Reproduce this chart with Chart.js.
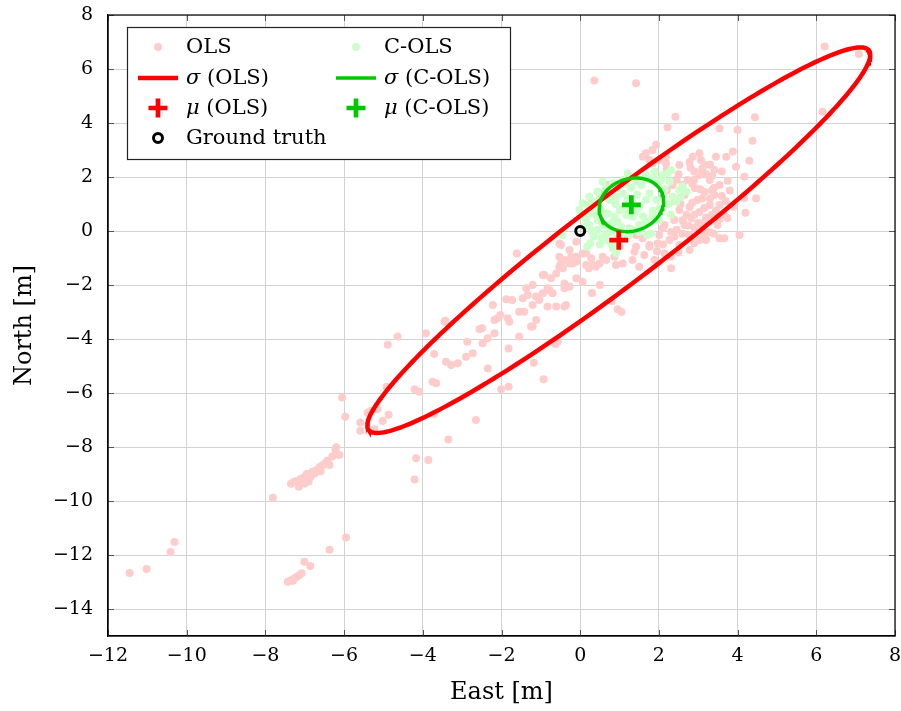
<!DOCTYPE html>
<html>
<head>
<meta charset="utf-8">
<script src="https://cdn.jsdelivr.net/npm/chart.js@4.4.1/dist/chart.umd.min.js"></script>
<style>
html, body { margin: 0; padding: 0; background: #fff; }
#wrap { width: 901px; height: 711px; }
</style>
</head>
<body>
<div id="wrap"><canvas id="c" width="901" height="711"></canvas></div>
<script>
// ------------------------
// DATA  (East, North) in metres
// ------------------------

const olsPts = [
    [-11.45,-12.67],[-11.02,-12.52],[-10.41,-11.89],[-10.31,-11.52],
    [-7.43,-12.99],[-7.35,-12.94],[-7.28,-12.88],[-7.22,-12.82],[-7.15,-12.76],[-7.08,-12.68],[-7.30,-12.95],
    [-7.01,-12.25],[-6.86,-12.41],[-6.37,-11.81],[-5.95,-11.35],
    [-7.81,-9.88],[-7.35,-9.36],[-7.28,-9.30],[-7.20,-9.25],[-7.15,-9.47],[-7.10,-9.18],[-7.05,-9.30],
    [-7.00,-9.10],[-6.95,-9.20],[-6.90,-9.00],[-6.85,-9.10],[-6.80,-8.92],[-6.75,-8.98],[-6.70,-8.85],
    [-6.62,-8.75],[-6.55,-8.68],[-6.48,-8.60],[-6.42,-8.50],[-6.37,-8.67],[-6.30,-8.35],[-6.22,-8.10],
    [-6.20,-8.01],[-6.12,-8.30],[-7.00,-9.35],[-6.90,-9.28],[-6.95,-9.00],[-6.60,-8.90],
    [-6.05,-6.17],[-5.97,-6.88],[-5.59,-7.09],[-5.59,-7.40],[-5.40,-6.73],[-5.32,-6.66],[-5.15,-6.60],
    [-5.02,-7.04],[-4.87,-6.81],[-5.23,-7.34],[-4.92,-5.77],[-4.89,-4.21],[-4.64,-3.91],[-4.21,-5.86],
    [-4.09,-5.95],[-3.71,-4.56],[-3.41,-4.84],[-3.28,-4.96],[-3.11,-4.90],[-3.75,-5.58],[-3.66,-5.64],
    [-3.71,-6.78],[-3.35,-7.72],[-4.17,-8.42],[-3.86,-8.48],[-4.21,-9.20],[-3.92,-3.79],[-3.45,-3.36],
    [-2.65,-7.00],[-2.01,-5.86],[-1.82,-5.77],[-1.18,-4.88],[-0.93,-5.49],[-0.63,-4.19],[-0.57,-4.10],
    [-2.90,-4.66],[-2.73,-4.53],[-2.48,-4.16],[-2.18,-3.79],[-2.35,-3.97],[-2.56,-3.64],[-2.49,-3.60],
    [-2.87,-4.10],[-2.35,-5.09],[-1.82,-4.35],[-1.55,-3.91],[-1.21,-3.54],[-1.12,-3.30],[-1.25,-3.54],
    [-2.18,-3.30],[-2.10,-3.23],[-1.84,-3.23],[-1.80,-3.36],[-2.03,-3.11],[-2.22,-2.74],[-1.88,-2.53],
    [-1.73,-2.56],[-1.46,-2.49],[-1.33,-2.37],[-1.12,-2.43],[-1.04,-2.56],[-0.95,-2.31],[-0.78,-2.19],
    [-1.21,-2.74],[-1.55,-2.99],[-1.42,-2.99],[-0.83,-2.80],[-0.40,-2.80],[-0.36,-2.74],[-0.61,-2.80],
    [-0.83,-2.12],[-0.70,-2.31],[-0.40,-2.12],[-0.27,-2.06],[-1.37,-2.12],[-1.21,-2.00],[-0.91,-1.63],
    [-0.74,-1.75],[-0.95,-1.63],[-0.61,-1.57],[-0.44,-1.38],[-0.27,-1.20],[-0.49,-1.20],[-0.53,-1.32],
    [-0.40,-1.94],[-0.10,-1.75],[0.06,-1.88],[0.22,-1.38],[0.32,-1.26],[0.15,-0.83],[-0.23,-0.95],
    [-0.10,-1.14],[-1.61,-0.83],[-0.49,-0.52],[-0.10,-0.40],[-3.43,-3.32],
    [-0.53,-0.46],[-0.27,-0.70],[-0.10,-0.95],[0.06,-0.83],[0.28,-1.01],[0.49,-1.20],[0.66,-1.07],
    [0.87,-0.95],[1.08,-1.20],[1.33,-1.07],[1.50,-1.32],[0.15,-1.26],[-0.19,-1.20],[-0.40,-1.07],
    [-0.53,-0.95],[0.40,-1.32],[0.57,-0.95],[0.91,-1.26],[2.31,-1.38],[1.00,-0.58],[1.42,-0.58],
    [1.38,-0.77],[0.30,-2.30],[0.50,-2.00],[0.80,-2.60],[0.95,-2.90],[1.05,-3.00],
    [0.36,5.57],[1.42,5.47],[6.21,6.83],[7.08,6.56],[6.16,4.42],[2.42,4.23],[4.44,4.21],[2.22,3.84],
    [3.54,3.80],[4.00,3.74],[4.38,3.34],[3.88,2.94],[3.71,2.75],[3.45,2.75],[4.30,2.60],[3.96,2.38],
    [4.17,2.01],[3.75,1.86],[4.47,1.21],[4.20,0.68],[3.66,-0.27],[3.20,-0.33],[3.54,-0.27],[3.03,2.88],
    [3.07,2.63],[2.86,2.75],[1.93,3.19],[1.84,3.00],[1.67,2.88],[1.84,2.51],[2.01,2.63],[2.18,2.51],
    [1.59,2.75],[1.76,2.63],[2.18,2.75],[0.49,1.40],[0.70,1.70],
    [2.52,2.44],[2.78,2.56],[3.16,2.44],[3.41,2.26],[3.03,2.07],[2.73,1.89],[3.29,1.89],[3.54,1.70],
    [2.91,1.59],[3.16,1.44],[2.65,1.33],[3.41,1.33],[2.98,1.15],[3.29,0.96],[2.78,0.89],[3.03,0.70],
    [3.34,0.59],[2.83,0.48],[3.16,0.33],[3.49,0.22],[2.91,0.11],[3.29,-0.04],[2.78,-0.15],[3.03,-0.33],
    [3.54,0.96],[3.66,0.59],[2.52,0.78],[2.39,0.41],[2.65,0.22],[2.31,-0.04],[2.14,0.22],[2.01,-0.15],
    [2.27,-0.33],[2.52,-0.52],[2.78,-0.70],[1.76,-0.52],[1.63,-0.89],[1.89,-1.07],[1.42,-0.15],[1.59,-0.27],
    [1.76,-0.58],[1.97,-0.46],[2.14,-0.83],[2.31,-0.95],[2.10,0.10],[4.17,1.22],[4.05,-0.15],[3.74,0.48],
    [2.60,1.70],[2.90,2.20],[3.20,2.10],[3.10,1.20],[2.70,0.60],[3.40,1.60],[2.40,1.10],[2.20,1.50],
    [3.00,0.30],[2.60,-0.10],[3.60,1.30],[3.80,1.50],[3.90,0.90],[2.90,1.90],[2.45,1.90],[3.30,2.45],
    [3.60,2.20],
    [2.20,2.30],[2.50,2.10],[2.80,2.35],[3.10,2.30],[3.35,2.05],[2.35,1.70],[2.85,1.75],[3.05,1.55],
    [3.30,1.20],[2.55,1.00],[2.85,1.05],[3.15,0.85],[3.45,0.75],[2.60,0.40],[2.90,0.60],[3.20,0.50],
    [2.45,0.05],[2.75,0.20],[3.10,0.05],[3.40,-0.10],[2.40,-0.20],[2.90,-0.45],[3.15,-0.20],[2.10,-0.50],
    [1.95,-0.75],[2.50,-0.80],[3.55,0.45],[3.70,1.10],[3.35,1.50]
];

const colsPts = [
    [1.21,2.14],[1.42,2.01],[1.67,2.07],[1.89,2.20],[2.10,2.07],[2.22,2.14],[2.31,2.26],[0.83,1.77],
    [0.66,1.58],[0.44,1.46],[0.23,1.27],[0.06,1.03],[-0.02,0.78],[0.32,0.90],[0.23,0.66],[0.74,1.15],
    [0.91,1.27],[1.08,1.40],[1.00,0.78],[0.87,0.53],[1.17,0.59],[1.33,0.53],[1.50,0.90],[1.67,1.15],
    [1.76,1.40],[1.93,1.15],[2.01,0.84],[1.84,0.53],[1.67,0.34],[1.50,0.22],[1.25,0.10],[1.04,0.16],
    [0.44,0.04],[0.65,-0.09],[0.91,-0.09],[1.08,-0.27],[1.33,0.04],[1.50,-0.03],[1.80,-0.09],[0.83,-0.64],
    [0.57,0.22],[0.23,0.22],[0.15,0.41],[2.52,1.52],[2.70,1.46],[2.35,1.27],[2.44,1.09],[2.27,1.83],
    [0.57,1.83],[0.65,1.58],[0.53,0.78],[0.62,0.22],[0.74,-0.03],[0.65,-0.33],[0.91,-0.58],[0.78,-0.46],
    [1.30,1.60],[1.10,1.90],[1.55,1.70],[0.90,1.00],[1.20,1.20],[1.45,1.35],[0.40,0.60],[0.80,0.30],
    [2.00,1.80],[2.15,1.55],[1.95,1.75],[0.35,-0.20],[0.50,-0.50],[0.25,-0.45],[-0.45,-0.15],[0.18,-0.58],
    [0.91,-0.82],
    [0.30,1.10],[0.50,1.20],[0.70,1.45],[0.95,1.60],[1.15,1.75],[1.40,1.85],[1.65,1.90],[1.85,1.95],
    [2.05,1.90],[0.45,0.40],[0.70,0.65],[0.95,0.35],[1.15,0.85],[1.40,0.70],[1.60,0.55],[1.85,0.75],
    [2.10,1.30],[2.25,1.00],[1.00,-0.10],[1.25,-0.15],[0.55,-0.25],[0.30,0.00],[0.10,0.15],[0.05,0.55],
    [0.20,0.95],[1.70,-0.15],[2.00,0.40],[2.30,0.60],[2.55,1.25],[2.60,1.65]
];

// sigma ellipses: centre, std East, std North, correlation
const olsMean = [0.98, -0.34];
const olsSigma = [6.39, 7.14, 0.961];
const colsMean = [1.30, 0.97];
const colsSigma = [0.82, 0.995, 0.14];
const groundTruth = [0, 0];

const xTicks = [-12, -10, -8, -6, -4, -2, 0, 2, 4, 6, 8];
const yTicks = [-14, -12, -10, -8, -6, -4, -2, 0, 2, 4, 6, 8];

const legendLabels = ['OLS', 'C-OLS', 'σ (OLS)', 'σ (C-OLS)', 'μ (OLS)', 'μ (C-OLS)', 'Ground truth'];

// ------------------------
// STYLE
// ------------------------

const RED = 'rgb(255,0,0)';
const GREEN = 'rgb(0,200,0)';
const PINK = 'rgb(255,204,204)';
const LIGHTGREEN = 'rgb(204,255,204)';
const FONT = '"DejaVu Serif", "Liberation Serif", serif';

const toXY = arr => arr.map(p => ({ x: p[0], y: p[1] }));

function sigmaEllipse(c, s, n) {
    const k = Math.sqrt(1 - s[2] * s[2]);
    const pts = [];
    for (let i = 0; i <= n; i++) {
        const t = 2 * Math.PI * i / n;
        pts.push({
            x: c[0] + s[0] * Math.cos(t),
            y: c[1] + s[1] * (s[2] * Math.cos(t) + k * Math.sin(t))
        });
    }
    return pts;
}

const fmt = v => (v < 0 ? '\u2212' + Math.abs(v) : String(v));

// keep the plot frame fixed: no extra room for overhanging tick labels
function noOverhang(s) {
    s.paddingLeft = 0; s.paddingRight = 0;
    s.paddingTop = 0; s.paddingBottom = 0;
}

// ------------------------
// PLUGINS
// ------------------------

// inner tick marks on all four sides + closing frame
const framePlugin = {
    id: 'frame',
    beforeDatasetsDraw(chart) {
        const { ctx, chartArea: a, scales } = chart;
        ctx.save();
        ctx.strokeStyle = '#555';
        ctx.lineWidth = 1;
        ctx.beginPath();
        xTicks.forEach(v => {
            const px = Math.round(scales.x.getPixelForValue(v)) + 0.5;
            ctx.moveTo(px, a.bottom); ctx.lineTo(px, a.bottom - 6);
            ctx.moveTo(px, a.top); ctx.lineTo(px, a.top + 6);
        });
        yTicks.forEach(v => {
            const py = Math.round(scales.y.getPixelForValue(v)) + 0.5;
            ctx.moveTo(a.left, py); ctx.lineTo(a.left + 6, py);
            ctx.moveTo(a.right, py); ctx.lineTo(a.right - 6, py);
        });
        ctx.stroke();
        ctx.restore();
    },
    afterDatasetsDraw(chart) {
        const { ctx, chartArea: a } = chart;
        ctx.save();
        ctx.strokeStyle = '#000';
        ctx.lineWidth = 1.2;
        ctx.strokeRect(a.left, a.top, a.right - a.left, a.bottom - a.top);
        ctx.restore();
    }
};

function drawLabel(ctx, text, x, y) {
    const greek = text[0] === 'σ' || text[0] === 'μ';
    if (greek) {
        ctx.font = 'italic 21px ' + FONT;
        ctx.fillText(text[0], x, y);
        const w = ctx.measureText(text[0]).width;
        ctx.font = '21px ' + FONT;
        ctx.fillText(text.slice(1), x + w, y);
    } else {
        ctx.font = '21px ' + FONT;
        ctx.fillText(text, x, y);
    }
}

function drawSymbol(ctx, kind, cx, cy) {
    ctx.save();
    if (kind === 'dot-ols' || kind === 'dot-cols') {
        ctx.fillStyle = kind === 'dot-ols' ? PINK : LIGHTGREEN;
        ctx.beginPath(); ctx.arc(cx, cy, 4, 0, 2 * Math.PI); ctx.fill();
    } else if (kind === 'line-ols' || kind === 'line-cols') {
        ctx.strokeStyle = kind === 'line-ols' ? RED : GREEN;
        ctx.lineWidth = kind === 'line-ols' ? 4.5 : 3.5;
        ctx.beginPath(); ctx.moveTo(cx - 20, cy); ctx.lineTo(cx + 20, cy); ctx.stroke();
    } else if (kind === 'cross-ols' || kind === 'cross-cols') {
        ctx.strokeStyle = kind === 'cross-ols' ? RED : GREEN;
        ctx.lineWidth = 4.7;
        ctx.beginPath();
        ctx.moveTo(cx - 9.5, cy); ctx.lineTo(cx + 9.5, cy);
        ctx.moveTo(cx, cy - 9.5); ctx.lineTo(cx, cy + 9.5);
        ctx.stroke();
    } else {
        ctx.strokeStyle = '#000';
        ctx.lineWidth = 3;
        ctx.beginPath(); ctx.arc(cx, cy, 4.5, 0, 2 * Math.PI); ctx.stroke();
    }
    ctx.restore();
}

const legendPlugin = {
    id: 'boxLegend',
    afterDraw(chart) {
        const ctx = chart.ctx;
        const kinds = ['dot-ols', 'dot-cols', 'line-ols', 'line-cols', 'cross-ols', 'cross-cols', 'ring'];
        const colSym = [158, 356];
        const colText = [186, 384];
        const rows = [47, 78, 108, 138];
        ctx.save();
        ctx.fillStyle = '#fff';
        ctx.fillRect(127.5, 27.5, 383, 132);
        ctx.strokeStyle = '#222';
        ctx.lineWidth = 1.2;
        ctx.strokeRect(127.5, 27.5, 383, 132);
        ctx.textBaseline = 'middle';
        legendLabels.forEach((lab, i) => {
            const c = i % 2, r = Math.floor(i / 2);
            drawSymbol(ctx, kinds[i], colSym[c], rows[r]);
            ctx.fillStyle = '#000';
            drawLabel(ctx, lab, colText[c], rows[r] + 1);
        });
        ctx.restore();
    }
};

// ------------------------
// CHART
// ------------------------

const datasets = [
    { label: 'OLS', data: toXY(olsPts), pointRadius: 4, pointBorderWidth: 0,
      backgroundColor: PINK, borderColor: PINK, order: 7 },
    { label: 'C-OLS', data: toXY(colsPts), pointRadius: 4, pointBorderWidth: 0,
      backgroundColor: LIGHTGREEN, borderColor: LIGHTGREEN, order: 6 },
    { label: 'σ (OLS)', data: sigmaEllipse(olsMean, olsSigma, 240), showLine: true,
      pointRadius: 0, borderColor: RED, borderWidth: 4.5, tension: 0, order: 5 },
    { label: 'σ (C-OLS)', data: sigmaEllipse(colsMean, colsSigma, 120), showLine: true,
      pointRadius: 0, borderColor: GREEN, borderWidth: 3.5, tension: 0, order: 4 },
    { label: 'μ (OLS)', data: toXY([olsMean]), pointStyle: 'cross', pointRadius: 9.5,
      pointBorderWidth: 4.7, borderColor: RED, backgroundColor: RED, order: 3 },
    { label: 'μ (C-OLS)', data: toXY([colsMean]), pointStyle: 'cross', pointRadius: 9.5,
      pointBorderWidth: 4.7, borderColor: GREEN, backgroundColor: GREEN, order: 2 },
    { label: 'Ground truth', data: toXY([groundTruth]), pointStyle: 'circle', pointRadius: 4.5,
      pointBorderWidth: 3, borderColor: '#000', backgroundColor: 'rgba(255,255,255,0)', order: 1 }
];

new Chart(document.getElementById('c'), {
    type: 'scatter',
    data: { datasets },
    options: {
        responsive: false,
        animation: false,
        layout: { autoPadding: false, padding: { left: 0, right: 6, top: 15, bottom: 0 } },
        plugins: { legend: { display: false }, tooltip: { enabled: false } },
        scales: {
            x: {
                type: 'linear', min: -12, max: 8,
                afterBuildTicks: s => { s.ticks = xTicks.map(v => ({ value: v })); },
                afterFit: s => { s.height = 75; noOverhang(s); },
                ticks: { callback: fmt, color: '#000', padding: 3, font: { family: FONT, size: 19 } },
                grid: { color: '#d2d2d2', lineWidth: 1, drawTicks: true, tickLength: 6,
                        tickColor: 'rgba(0,0,0,0)' },
                border: { display: true, color: '#000', width: 1.2 },
                title: { display: true, text: 'East [m]', color: '#000',
                         font: { family: FONT, size: 24 }, padding: { top: 0, bottom: 4 } }
            },
            y: {
                type: 'linear', min: -15, max: 8,
                afterBuildTicks: s => { s.ticks = yTicks.map(v => ({ value: v })); },
                afterFit: s => { s.width = 108; noOverhang(s); },
                ticks: { callback: fmt, color: '#000', padding: 7, font: { family: FONT, size: 19 } },
                grid: { color: '#d2d2d2', lineWidth: 1, drawTicks: true, tickLength: 8,
                        tickColor: 'rgba(0,0,0,0)' },
                border: { display: true, color: '#000', width: 1.2 },
                title: { display: true, text: 'North [m]', color: '#000',
                         font: { family: FONT, size: 24 }, padding: { top: 10, bottom: 0 } }
            }
        }
    },
    plugins: [framePlugin, legendPlugin]
});
</script>
</body>
</html>
